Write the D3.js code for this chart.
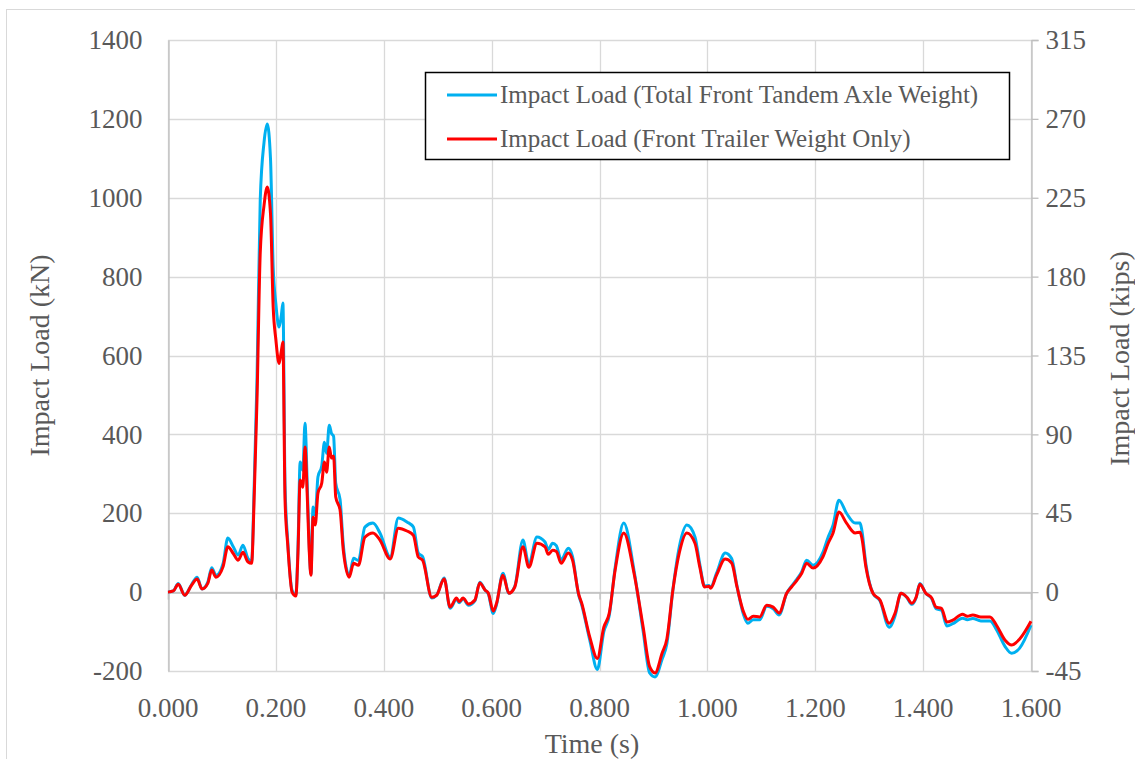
<!DOCTYPE html>
<html><head><meta charset="utf-8">
<script src="https://cdn.jsdelivr.net/npm/d3@7"></script>
<style>body{margin:0;background:#fff;} svg{display:block;}</style>
</head><body>
<svg id="chart" width="1135" height="759"></svg>
<script>
const timeS = [
 0, 0.01, 0.019, 0.031, 0.044, 0.054, 0.063, 0.074, 0.081, 0.089,
 0.102, 0.111, 0.121, 0.13, 0.139, 0.148, 0.155, 0.160, 0.165, 0.171,
 0.178, 0.184, 0.190, 0.195, 0.200, 0.206, 0.210, 0.213, 0.217, 0.222,
 0.23, 0.237, 0.241, 0.245, 0.25, 0.254, 0.258, 0.262, 0.265, 0.269,
 0.273, 0.278, 0.285, 0.29, 0.294, 0.299, 0.303, 0.307, 0.311, 0.319,
 0.325, 0.336, 0.344, 0.353, 0.365, 0.38, 0.393, 0.412, 0.427, 0.443,
 0.455, 0.464, 0.472, 0.489, 0.498, 0.512, 0.523, 0.535, 0.54, 0.547,
 0.557, 0.569, 0.578, 0.588, 0.594, 0.603, 0.609, 0.621, 0.632, 0.643,
 0.658, 0.669, 0.684, 0.699, 0.705, 0.713, 0.72, 0.729, 0.742, 0.75,
 0.761, 0.767, 0.782, 0.796, 0.808, 0.818, 0.829, 0.845, 0.864, 0.881,
 0.893, 0.903, 0.916, 0.925, 0.936, 0.948, 0.962, 0.977, 0.986, 0.995,
 1.003, 1.006, 1.017, 1.033, 1.045, 1.055, 1.067, 1.075, 1.085, 1.097,
 1.11, 1.122, 1.133, 1.147, 1.156, 1.166, 1.175, 1.184, 1.196, 1.214,
 1.224, 1.233, 1.244, 1.258, 1.274, 1.283, 1.286, 1.294, 1.307, 1.32,
 1.337, 1.348, 1.359, 1.37, 1.379, 1.387, 1.394, 1.405, 1.416, 1.424,
 1.434, 1.444, 1.455, 1.473, 1.482, 1.492, 1.507, 1.524, 1.536, 1.552,
 1.564, 1.579, 1.6
];
const totalAxle = [
 0, 3, 22, -8, 20, 38, 8, 26, 62, 42,
 72, 137, 115, 94, 119, 86, 78, 280, 540, 994,
 1140, 1187, 1100, 824, 730, 672, 700, 733, 270, 130,
 5, -8, 115, 330, 309, 428, 280, 110, 45, 216,
 195, 292, 320, 380, 352, 423, 403, 395, 276, 235,
 120, 42, 86, 80, 165, 175, 150, 89, 188, 178,
 165, 99, 90, -15, -8, 36, -41, -18, -27, -17,
 -33, -22, 25, 5, -5, -54, -32, 48, -3, 15,
 132, 72, 140, 127, 108, 124, 118, 82, 111, 90,
 -5, -32, -122, -196, -100, -60, 62, 175, 55, -100,
 -205, -215, -170, -130, 5, 115, 170, 140, 70, 15,
 17, 12, 48, 99, 85, 15, -57, -79, -70, -70,
 -36, -42, -58, -3, 15, 33, 52, 81, 68, 100,
 140, 170, 233, 200, 175, 175, 160, 70, -3, -22,
 -89, -60, -3, -14, -31, -14, 22, -3, -17, -42,
 -46, -86, -80, -66, -70, -67, -73, -73, -95, -138,
 -155, -142, -84
];
const trailerOnly = [
 0, 3, 20, -8, 18, 33, 8, 23, 56, 38,
 64, 115, 98, 81, 101, 77, 73, 250, 487, 860,
 980, 1027, 960, 723, 640, 580, 610, 634, 233, 120,
 0, -10, 100, 284, 266, 368, 250, 100, 43, 190,
 170, 251, 276, 330, 304, 368, 340, 345, 241, 208,
 106, 38, 73, 68, 139, 150, 132, 84, 162, 155,
 144, 89, 81, -13, -8, 33, -38, -15, -24, -15,
 -30, -20, 23, 5, -3, -48, -29, 43, -3, 13,
 115, 63, 124, 115, 96, 106, 103, 73, 99, 81,
 -3, -28, -114, -168, -89, -54, 56, 150, 48, -89,
 -189, -205, -155, -118, 5, 100, 150, 124, 63, 13,
 15, 10, 43, 84, 74, 13, -50, -69, -61, -63,
 -33, -38, -53, -3, 13, 30, 48, 73, 61, 89,
 124, 150, 203, 175, 150, 152, 140, 63, -3, -20,
 -79, -53, -3, -13, -28, -13, 20, -3, -15, -38,
 -41, -76, -71, -56, -61, -58, -63, -63, -84, -122,
 -134, -119, -74
];
const xTicks = [0, 0.2, 0.4, 0.6, 0.8, 1.0, 1.2, 1.4, 1.6];
const yTicksKN = [-200, 0, 200, 400, 600, 800, 1000, 1200, 1400];
const yTicksKips = [-45, 0, 45, 90, 135, 180, 225, 270, 315];
const seriesNames = ["Impact Load (Total Front Tandem Axle Weight)", "Impact Load (Front Trailer Weight Only)"];
const seriesColors = ["#00B0F0", "#FF0000"];

(function () {
const svg = d3.select("#chart");
const FONT = "'Liberation Serif','Times New Roman',serif";
const TXT = "#595959";
const TICK_FS = 27, TITLE_FS = 28, LEG_FS = 25;
const pL = 168, pR = 1031, pT = 40, pB = 671;
const fmt = d => String(d);

svg.append("rect").attr("x", 6.5).attr("y", 9.5).attr("width", 1140).attr("height", 760)
  .attr("fill", "#fff").attr("stroke", "#d9d9d9").attr("stroke-width", 1);

const x = d3.scaleLinear().domain([0, 1.6]).range([pL, pR]);
const y = d3.scaleLinear().domain([-200, 1400]).range([pB, pT]);
const y2 = d3.scaleLinear().domain([-45, 315]).range([pB, pT]);

const grid = svg.append("g");
grid.selectAll("line.h").data(yTicksKN).join("line")
  .attr("x1", pL).attr("x2", pR)
  .attr("y1", d => Math.round(y(d)) + 0.5).attr("y2", d => Math.round(y(d)) + 0.5)
  .attr("stroke", "#d9d9d9").attr("stroke-width", 1.3);
grid.selectAll("line.v").data(xTicks).join("line")
  .attr("y1", pT).attr("y2", pB)
  .attr("x1", d => Math.round(x(d)) + 0.5).attr("x2", d => Math.round(x(d)) + 0.5)
  .attr("stroke", "#d9d9d9").attr("stroke-width", 1.3);

const yAxis = d3.axisLeft(y).tickValues(yTicksKN).tickSize(0).tickPadding(26).tickFormat(fmt);
const gy = svg.append("g").attr("transform", `translate(${pL + 0.5},0)`).call(yAxis);
gy.select(".domain").attr("stroke", "#bfbfbf").attr("stroke-width", 1.3);
gy.selectAll("text").attr("font-family", FONT).attr("font-size", TICK_FS).attr("fill", TXT);

const yAxis2 = d3.axisRight(y2).tickValues(yTicksKips).tickSize(7).tickPadding(7).tickFormat(fmt);
const gy2 = svg.append("g").attr("transform", `translate(${pR + 0.5},0)`).call(yAxis2);
gy2.select(".domain").attr("stroke", "#bfbfbf").attr("stroke-width", 1.3);
gy2.selectAll(".tick line").attr("stroke", "#bfbfbf").attr("stroke-width", 1.3);
gy2.selectAll("text").attr("font-family", FONT).attr("font-size", TICK_FS).attr("fill", TXT);

const xAxis = d3.axisBottom(x).tickValues(xTicks).tickSize(7).tickFormat("");
const gx = svg.append("g").attr("transform", `translate(0,${Math.round(y(0)) + 0.5})`).call(xAxis);
gx.select(".domain").attr("stroke", "#bfbfbf").attr("stroke-width", 1.3);
gx.selectAll(".tick line").attr("stroke", "#bfbfbf").attr("stroke-width", 1.3);

svg.append("g").selectAll("text").data(xTicks).join("text")
  .attr("x", d => x(d)).attr("y", 717).attr("text-anchor", "middle")
  .attr("font-family", FONT).attr("font-size", TICK_FS).attr("fill", TXT)
  .text(d => d3.format(".3f")(d));

svg.append("text").attr("x", 592).attr("y", 753).attr("text-anchor", "middle")
  .attr("font-family", FONT).attr("font-size", TITLE_FS).attr("fill", TXT).text("Time (s)");
svg.append("text").attr("transform", `translate(49,${(pT + pB) / 2}) rotate(-90)`)
  .attr("text-anchor", "middle").attr("font-family", FONT).attr("font-size", TITLE_FS).attr("fill", TXT)
  .text("Impact Load (kN)");
svg.append("text").attr("transform", `translate(1129,${(pT + pB) / 2 + 3}) rotate(-90)`)
  .attr("text-anchor", "middle").attr("font-family", FONT).attr("font-size", TITLE_FS).attr("fill", TXT)
  .text("Impact Load (kips)");

const line = d3.line().x((d, i) => x(timeS[i])).y(d => y(d)).curve(d3.curveMonotoneX);
[totalAxle, trailerOnly].forEach((vals, k) => {
  svg.append("path").datum(vals).attr("d", line)
    .attr("fill", "none").attr("stroke", seriesColors[k]).attr("stroke-width", 3)
    .attr("stroke-linejoin", "round");
});

const lg = svg.append("g");
lg.append("rect").attr("x", 425.5).attr("y", 72.5).attr("width", 584).attr("height", 87)
  .attr("fill", "#fff").attr("stroke", "#000").attr("stroke-width", 1.5);
seriesNames.forEach((name, i) => {
  const yy = 95 + i * 44;
  lg.append("line").attr("x1", 447).attr("x2", 497).attr("y1", yy).attr("y2", yy)
    .attr("stroke", seriesColors[i]).attr("stroke-width", 3);
  lg.append("text").attr("x", 500).attr("y", yy + 8).attr("font-family", FONT)
    .attr("font-size", LEG_FS).attr("fill", TXT).text(name);
});
})();
</script>
</body></html>
